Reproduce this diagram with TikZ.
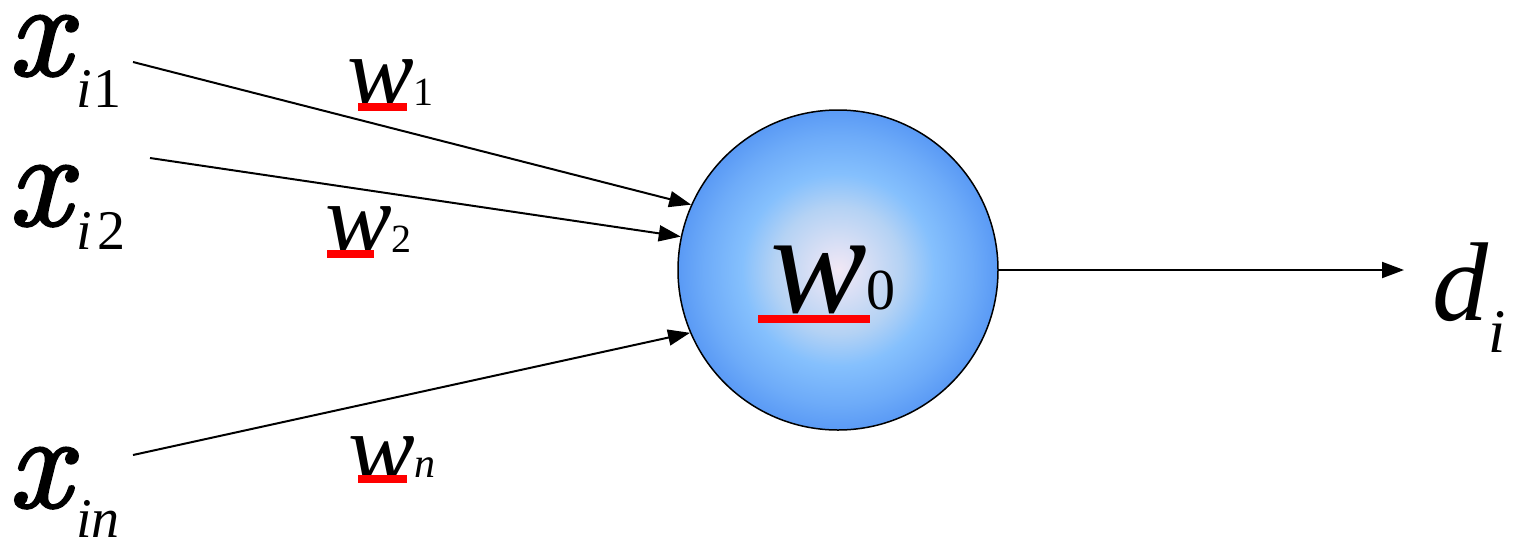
\documentclass[tikz,border=0pt]{standalone}
\usepackage{fontspec}
\setmainfont{Liberation Serif}
\usetikzlibrary{positioning, arrows.meta, calc}
\definecolor{rimblue}{HTML}{5A9AF5}
\definecolor{midblue}{HTML}{85C0FD}
\definecolor{paleblue}{HTML}{B4D2F4}
\definecolor{core}{HTML}{F2E8F5}
\definecolor{barred}{HTML}{FF0000}
\pgfdeclareradialshading{neuronglow}{\pgfpoint{0bp}{0bp}}{color(0bp)=(core); color(10bp)=(paleblue); color(15bp)=(midblue); color(21bp)=(midblue!45!rimblue); color(25bp)=(rimblue); color(50bp)=(rimblue)}
\font\curlyx="[lmroman10-italic]:embolden=2" at 134pt
\newcommand{\lowsub}[3]{\raisebox{-#1pt}{\fontsize{#2}{#2}\selectfont #3}}
\newcommand{\xin}{{\curlyx x}\hspace{6pt}}

\begin{document}
\begin{tikzpicture}[x=1pt, y=-1pt,
  neuron/.style={circle, draw=black, line width=1.5pt, shading=neuronglow, minimum size=320pt, inner sep=0pt},
  lbl/.style={anchor=base west, inner sep=0pt, font=\fontsize{112}{112}\selectfont\itshape},
  wlbl/.style={anchor=base west, inner sep=0pt, font=\fontsize{100}{100}\selectfont\itshape},
  link/.style={line width=2pt, -{Triangle[length=22pt, width=16pt]}}]
  \useasboundingbox (0,0) rectangle (1522,542);

  % Unit
  \node[neuron] (n) at (838,270) {};
  \node[wlbl, font=\fontsize{145}{145}\selectfont\itshape] (w0) at (770,312) {w\lowsub{-3}{58}{\upshape 0}};

  % Inputs
  \node[lbl] (x1) at (8,75) {\xin\lowsub{32}{56}{i\kern2pt\upshape 1}};
  \node[lbl] (x2) at (8,225) {\xin\lowsub{24}{56}{i\kern6pt\upshape 2}};
  \node[lbl] (xn) at (8,507) {\xin\lowsub{30}{56}{in}};

  % Weights
  \node[wlbl] (w1) at (347,105) {w\lowsub{0}{40}{\upshape 1}};
  \node[wlbl] (w2) at (325,252) {w\lowsub{0}{40}{\upshape 2}};
  \node[wlbl] (wn) at (348,482) {w\lowsub{-5}{42}{n}};

  % Output
  \node[lbl] (d) at (1432,320) {d\lowsub{32}{62}{i}};

  % Underlines
  \fill[barred] ($(w1.base west)+(11,-2)$) rectangle ++(49,8);
  \fill[barred] ($(w2.base west)+(2,-2)$) rectangle ++(47,8);
  \fill[barred] ($(wn.base west)+(10,-7)$) rectangle ++(49,8);
  \fill[barred] ($(w0.base west)+(-12,3)$) rectangle ++(112,8);

  % Connectors
  \coordinate (t1) at (133,62);
  \coordinate (t2) at (150,158);
  \coordinate (tn) at (133,455);
  \coordinate (out) at (1404,270);
  \draw[link] (t1) -- (n.156);
  \draw[link] (t2) -- (n.168);
  \draw[link] (tn) -- (n.203);
  \draw[link] (n.east) -- (out);
\end{tikzpicture}
\end{document}
